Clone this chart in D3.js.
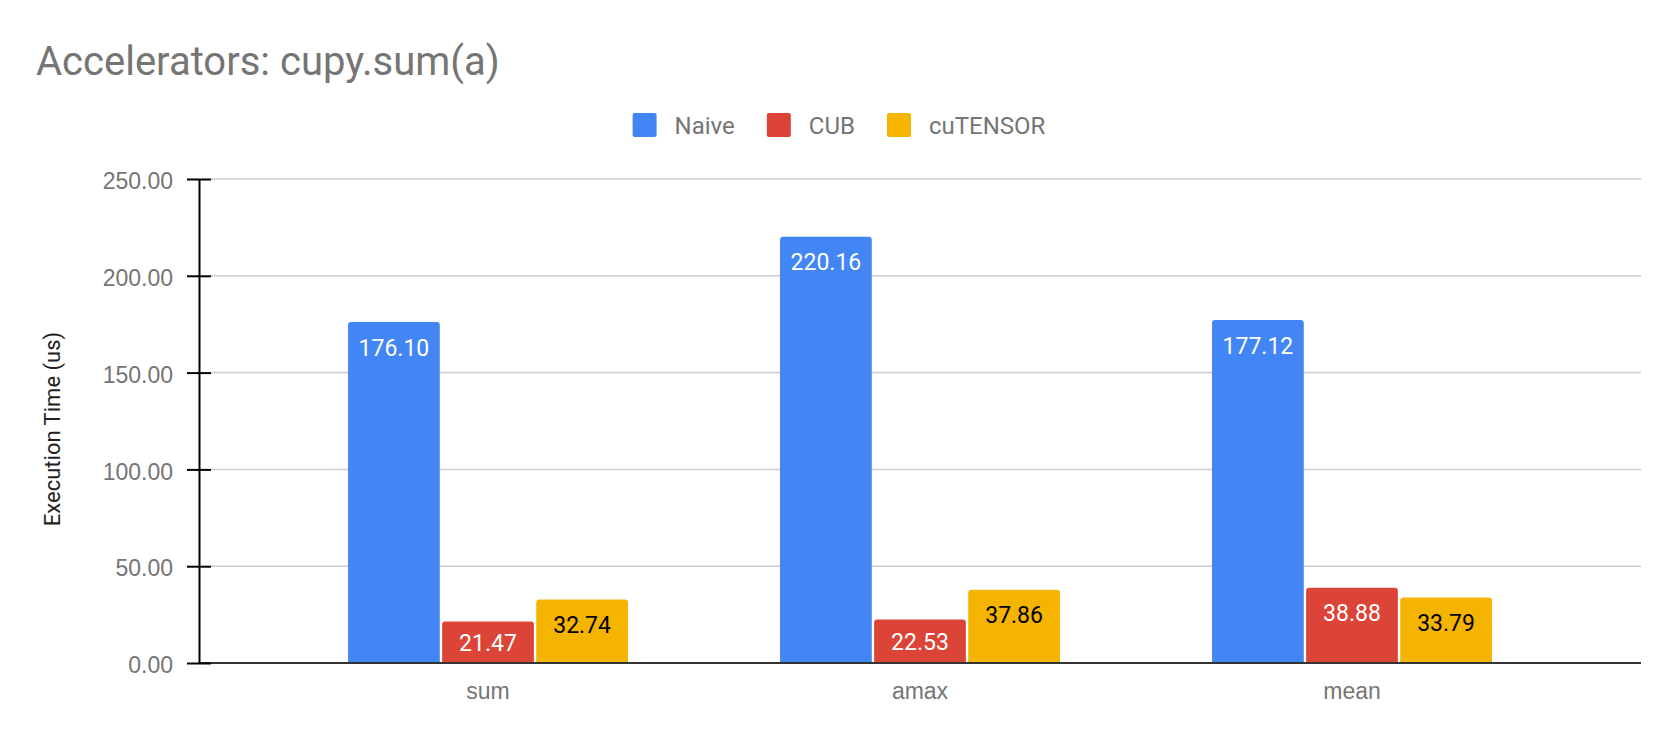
<!DOCTYPE html>
<html>
<head>
<meta charset="utf-8">
<script src="https://cdn.jsdelivr.net/npm/d3@7"></script>
<style>
	body { margin: 0; background: #fff; }
	svg { display: block; font-family: Roboto, "Noto Sans", sans-serif; }
	.tick text { fill: #757575; font-size: 23px; }
</style>
</head>
<body>
<div id="chart"></div>
<script>
// Data
const categories = ["sum", "amax", "mean"];
const seriesNames = ["Naive", "CUB", "cuTENSOR"];
const naive    = [176.10, 220.16, 177.12];
const cub      = [21.47, 22.53, 38.88];
const cutensor = [32.74, 37.86, 33.79];
const yTicks   = [0, 50, 100, 150, 200, 250];

const colors = ["#4285F4", "#DB4437", "#F4B400"];
const labelColors = ["#ffffff", "#ffffff", "#000000"];

const width = 1678, height = 742;
const plot = { left: 199, right: 1641, top: 179, bottom: 663 };

const svg = d3.select("#chart").append("svg")
	.attr("width", width).attr("height", height);

// Title
svg.append("text")
	.attr("x", 36).attr("y", 75)
	.style("font-size", "40px").style("fill", "#757575")
	.text("Accelerators: cupy.sum(a)");

// Scales
const x0 = d3.scaleBand(categories, [plot.left, plot.right])
	.paddingInner(0).paddingOuter(0.169);
const groupWidth = x0.bandwidth() * 0.648;
const x1 = d3.scaleBand(seriesNames, [0, groupWidth])
	.paddingInner(0.025).paddingOuter(0);
const y = d3.scaleLinear([0, 250], [plot.bottom, plot.top]);

// Gridlines
svg.append("g").selectAll("line")
	.data(yTicks.filter(d => d > 0))
	.join("line")
	.attr("x1", plot.left + 12).attr("x2", plot.right)
	.attr("y1", d => y(d)).attr("y2", d => y(d))
	.attr("stroke", "#cccccc").attr("stroke-width", 1.5);

// Bars
const values = [naive, cub, cutensor];
const rows = [];
categories.forEach((c, i) => {
	seriesNames.forEach((s, j) => rows.push({ cat: c, series: s, idx: j, value: values[j][i] }));
});

function barPath(x, yTop, w, yBottom, r) {
	return `M${x},${yBottom}V${yTop + r}Q${x},${yTop} ${x + r},${yTop}` +
		`H${x + w - r}Q${x + w},${yTop} ${x + w},${yTop + r}V${yBottom}Z`;
}

const barX = d => x0(d.cat) + (x0.bandwidth() - groupWidth) / 2 + x1(d.series);

svg.append("g").selectAll("path")
	.data(rows)
	.join("path")
	.attr("d", d => barPath(barX(d), y(d.value), x1.bandwidth(), y(0), 3))
	.attr("fill", d => colors[d.idx]);

// Data labels
svg.append("g").selectAll("text")
	.data(rows)
	.join("text")
	.attr("x", d => barX(d) + x1.bandwidth() / 2)
	.attr("y", d => {
		let top = y(d.value), h = y(0) - top;
		return h >= 55 ? top + 33.5 : top + h / 2 + 8.5;
	})
	.attr("text-anchor", "middle")
	.style("font-size", "23px")
	.style("fill", d => labelColors[d.idx])
	.text(d => d3.format(".2f")(d.value));

// Baseline
svg.append("line")
	.attr("x1", plot.left).attr("x2", plot.right)
	.attr("y1", y(0)).attr("y2", y(0))
	.attr("stroke", "#333333").attr("stroke-width", 2);

// Y axis
const axisY = svg.append("g")
	.attr("transform", `translate(${plot.left}, 0)`)
	.call(d3.axisLeft(y).tickValues(yTicks).tickFormat(d3.format(".2f")).tickSizeOuter(0));
axisY.select(".domain").attr("stroke", "#000").attr("stroke-width", 2);
axisY.selectAll(".tick line").attr("x1", -12).attr("x2", 12)
	.attr("stroke", "#000").attr("stroke-width", 2);
axisY.selectAll(".tick text").attr("x", -26).attr("dy", "0.42em");

// X axis
const axisX = svg.append("g")
	.attr("transform", `translate(0, ${plot.bottom})`)
	.call(d3.axisBottom(x0).tickSize(0));
axisX.select(".domain").remove();
axisX.selectAll(".tick text").attr("y", 36).attr("dy", null)
	.attr("x", (x0.bandwidth() - groupWidth) / 2 + groupWidth / 2 - x0.bandwidth() / 2);

// Y label
svg.append("text")
	.attr("transform", "translate(59.5, 429)rotate(-90)")
	.attr("text-anchor", "middle")
	.style("font-size", "22px").style("fill", "#222222")
	.text("Execution Time (us)");

// Legend
const legend = svg.append("g");
let lx = 0;
seriesNames.forEach((s, i) => {
	let item = legend.append("g").attr("transform", `translate(${lx}, 0)`);
	item.append("rect")
		.attr("x", 0).attr("y", 113).attr("width", 24).attr("height", 24)
		.attr("rx", 2).attr("fill", colors[i]);
	let t = item.append("text")
		.attr("x", 42).attr("y", 134.3)
		.style("font-size", "24px").style("fill", "#757575")
		.text(s);
	lx += 42 + t.node().getComputedTextLength() + 32;
});
const legendWidth = lx - 32;
legend.attr("transform", `translate(${width / 2 - legendWidth / 2}, 0)`);
</script>
</body>
</html>
